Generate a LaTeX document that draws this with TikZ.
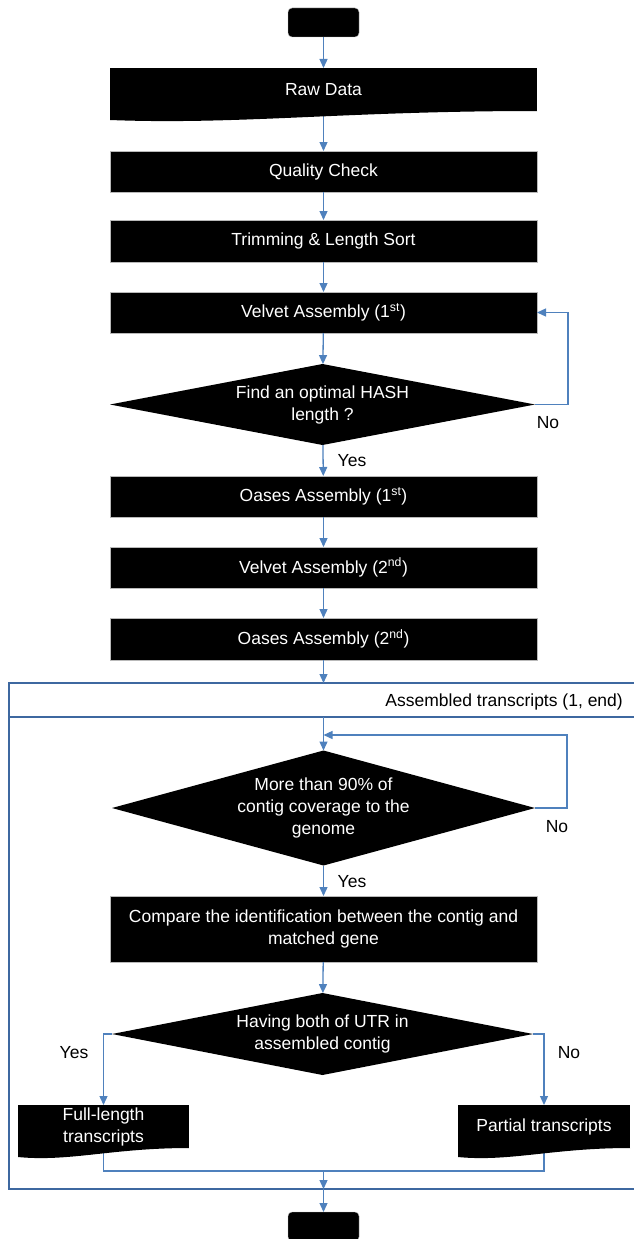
\documentclass[tikz,border=0pt]{standalone}
\usepackage{fontspec}
\setmainfont{Liberation Sans}
\usetikzlibrary{calc,arrows.meta,shapes.geometric}

\definecolor{flowblue}{RGB}{79,129,189}
\definecolor{frameblue}{RGB}{62,104,160}
\newcommand{\stepfont}{\fontsize{17.5}{22}\selectfont}
% wavy bottom of a document box, drawn below the node
\newcommand{\docwave}[1]{%
  \fill[black] (#1.south east) .. controls ($(#1.south east)!0.45!(#1.south west)$) and ($(#1.south west)!0.3!(#1.south east)+(0,14)$) .. ($(#1.south west)+(0,9)$) -- (#1.south west) -- cycle;}

\tikzset{
  procbox/.style={rectangle, fill=black, draw=gray!55, line width=0.5pt, text=white,
    minimum width=427pt, inner sep=0pt, outer sep=0pt, align=center, font=\stepfont},
  docbox/.style={procbox, draw=none},
  decision/.style={diamond, fill=black, text=white, inner sep=0pt, outer sep=0pt,
    align=center, font=\stepfont},
  terminal/.style={rectangle, rounded corners=4pt, fill=black, draw=gray!55,
    minimum width=71pt, minimum height=29pt, outer sep=0pt},
  flow/.style={draw=flowblue, line width=1.3pt, -{Triangle[width=8pt,length=9pt]}},
  flowline/.style={draw=flowblue, line width=1.3pt},
  lbl/.style={font=\stepfont, inner sep=0pt},
  frame/.style={rectangle, draw=frameblue, line width=2.2pt, outer sep=0pt, inner sep=0pt}
}

\begin{document}
\begin{tikzpicture}[x=1pt,y=-1pt]
\useasboundingbox (0,0) rectangle (633,1239);

% main steps
\node[terminal] (start) at (323.5,22.5) {};
\node[docbox, minimum height=43pt] (raw) at (323.5,89.5) {Raw Data};
\node[procbox, minimum height=41pt] (qc) at (323.5,171.5) {Quality Check};
\node[procbox, minimum height=42pt] (trim) at (323.5,241) {Trimming \& Length Sort};
\node[procbox, minimum height=41pt] (velvet1) at (323.5,312.5) {Velvet Assembly (1\textsuperscript{st})};
\node[decision, minimum width=425pt, minimum height=81pt, aspect=5.25] (hash) at (322.5,404.5) {Find an optimal HASH\\length ?};
\node[procbox, minimum height=41pt] (oases1) at (323.5,496.5) {Oases Assembly (1\textsuperscript{st})};
\node[procbox, minimum height=41pt] (velvet2) at (323.5,567.5) {Velvet Assembly (2\textsuperscript{nd})};
\node[procbox, minimum height=42pt] (oases2) at (323.5,639) {Oases Assembly (2\textsuperscript{nd})};

% assembled transcripts frame
\node[frame, minimum width=629pt, minimum height=506pt] (frame) at (323.5,936) {};
\node[frame, minimum width=629pt, minimum height=34pt] (hdr) at (323.5,700) {};
\node[lbl, anchor=east] (hdrtext) at (623,702) {Assembled transcripts (1, end)};

\node[decision, minimum width=423pt, minimum height=115pt, aspect=3.6] (cov) at (323.5,808) {More than 90\% of\\contig coverage to the\\genome};
\coordinate (covin) at (323.5,735);
\node[procbox, minimum height=66pt] (compare) at (323.5,929) {Compare the identification between the contig and\\matched gene};
\node[decision, minimum width=421pt, minimum height=82pt, aspect=5.1] (utr) at (322.5,1034) {Having both of UTR in\\assembled contig};
\node[docbox, minimum width=171pt, minimum height=43pt] (full) at (103.5,1126.5) {Full-length\\transcripts};
\node[docbox, minimum width=172pt, minimum height=43pt] (partial) at (544,1126.5) {Partial transcripts};
\coordinate (merge) at (323.5,1171);
\node[terminal] (stop) at (323.5,1226.5) {};

% labels
\node[lbl] (hashno) at (548,423) {No};
\node[lbl] (hashyes) at (352,461) {Yes};
\node[lbl] (covno) at (557,827) {No};
\node[lbl] (covyes) at (352,882) {Yes};
\node[lbl] (utryes) at (74,1053) {Yes};
\node[lbl] (utrno) at (569,1053) {No};

% connectors
\draw[flow] (start) -- (raw);
\draw[flow] (raw) -- (qc);
\draw[flow] (qc) -- (trim);
\draw[flow] (trim) -- (velvet1);
\draw[flow] (velvet1) -- (hash);
\draw[flow] (hash.east) -- ++(33,0) |- (velvet1.east);
\draw[flow] (hash) -- (oases1);
\draw[flow] (oases1) -- (velvet2);
\draw[flow] (velvet2) -- (oases2);
\draw[flow] (oases2) -- (frame.north);
\draw[flow] (hdr.south) -- (cov.north);
\draw[flow] (cov.east) -- ++(32,0) |- (covin);
\draw[flow] (cov) -- (compare);
\draw[flow] (compare) -- (utr);
\draw[flow] (utr.west) -| (full.north);
\draw[flow] (utr.east) -| (partial.north);
\draw[flowline] (full.south) |- (merge) -| (partial.south);
\draw[flow] (merge) -- (frame.south);
\draw[flow] (frame.south) -- (stop);

% document bottoms
\docwave{raw}
\docwave{full}
\docwave{partial}
\end{tikzpicture}
\end{document}
